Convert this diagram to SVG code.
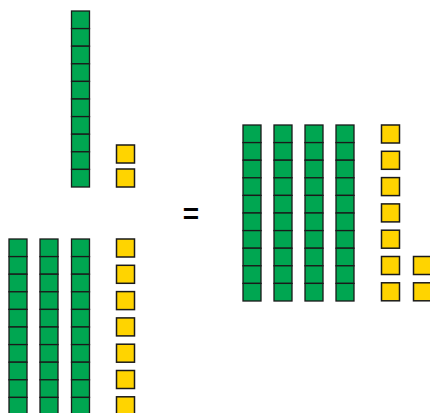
<svg xmlns="http://www.w3.org/2000/svg" xmlns:xlink="http://www.w3.org/1999/xlink" width="430" height="413" viewBox="0 0 430 413">
<style>
.g{fill:#00A651;stroke:#1a1a1a;stroke-width:1.3}
.y{fill:#FFD400;stroke:#1a1a1a;stroke-width:1.5}
.eq{font-family:"Liberation Sans",Arial,sans-serif;font-size:28px;font-weight:bold;fill:#000}
</style>
<defs>
<g id="rod">
<rect class="g" x="0" y="0" width="18" height="17.6"/>
<rect class="g" x="0" y="17.6" width="18" height="17.6"/>
<rect class="g" x="0" y="35.2" width="18" height="17.6"/>
<rect class="g" x="0" y="52.8" width="18" height="17.6"/>
<rect class="g" x="0" y="70.4" width="18" height="17.6"/>
<rect class="g" x="0" y="88" width="18" height="17.6"/>
<rect class="g" x="0" y="105.6" width="18" height="17.6"/>
<rect class="g" x="0" y="123.2" width="18" height="17.6"/>
<rect class="g" x="0" y="140.8" width="18" height="17.6"/>
<rect class="g" x="0" y="158.4" width="18" height="17.6"/>
</g>
<rect id="unit" class="y" x="0" y="0" width="18" height="18"/>
</defs>
<g id="top-group">
<g id="top-rod"><use xlink:href="#rod" x="71.5" y="11"/></g>
<g id="top-unit-1"><use xlink:href="#unit" x="116.5" y="145"/></g>
<g id="top-unit-2"><use xlink:href="#unit" x="116.5" y="169"/></g>
</g>
<g id="bottom-group">
<g id="bottom-rod-1"><use xlink:href="#rod" x="9" y="239"/></g>
<g id="bottom-rod-2"><use xlink:href="#rod" x="40" y="239"/></g>
<g id="bottom-rod-3"><use xlink:href="#rod" x="71.5" y="239"/></g>
<g id="bottom-unit-1"><use xlink:href="#unit" x="116.5" y="239"/></g>
<g id="bottom-unit-2"><use xlink:href="#unit" x="116.5" y="265.3"/></g>
<g id="bottom-unit-3"><use xlink:href="#unit" x="116.5" y="291.6"/></g>
<g id="bottom-unit-4"><use xlink:href="#unit" x="116.5" y="317.9"/></g>
<g id="bottom-unit-5"><use xlink:href="#unit" x="116.5" y="344.2"/></g>
<g id="bottom-unit-6"><use xlink:href="#unit" x="116.5" y="370.5"/></g>
<g id="bottom-unit-7"><use xlink:href="#unit" x="116.5" y="396.8"/></g>
</g>
<g id="equals"><text class="eq" x="191" y="223" text-anchor="middle">=</text></g>
<g id="result-group">
<g id="result-rod-1"><use xlink:href="#rod" x="243" y="125"/></g>
<g id="result-rod-2"><use xlink:href="#rod" x="274" y="125"/></g>
<g id="result-rod-3"><use xlink:href="#rod" x="305" y="125"/></g>
<g id="result-rod-4"><use xlink:href="#rod" x="336" y="125"/></g>
<g id="result-unit-1"><use xlink:href="#unit" x="381.5" y="125"/></g>
<g id="result-unit-2"><use xlink:href="#unit" x="381.5" y="151.3"/></g>
<g id="result-unit-3"><use xlink:href="#unit" x="381.5" y="177.6"/></g>
<g id="result-unit-4"><use xlink:href="#unit" x="381.5" y="203.9"/></g>
<g id="result-unit-5"><use xlink:href="#unit" x="381.5" y="230.2"/></g>
<g id="result-unit-6"><use xlink:href="#unit" x="381.5" y="256.5"/></g>
<g id="result-unit-7"><use xlink:href="#unit" x="381.5" y="282.8"/></g>
<g id="result-unit-8"><use xlink:href="#unit" x="413.5" y="256.5"/></g>
<g id="result-unit-9"><use xlink:href="#unit" x="413.5" y="282.8"/></g>
</g>
<g id="connectors"/>
</svg>
